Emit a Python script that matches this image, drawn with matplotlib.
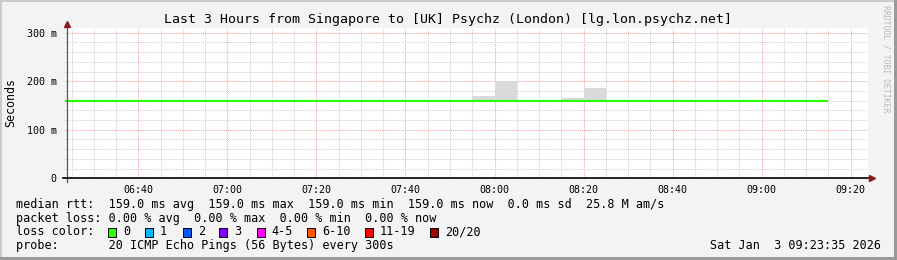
import matplotlib
matplotlib.use("Agg")
import matplotlib.pyplot as plt
import matplotlib.dates as mdates
from matplotlib.ticker import MultipleLocator, FixedLocator
from matplotlib.patches import Rectangle
from matplotlib.lines import Line2D
from datetime import datetime, timedelta

# ---------------- data ----------------
DAY = "2026-01-03"
window_start = "06:23:35"
window_end = "09:23:35"

median_times = ["06:23:35", "09:15:00"]
median_ms = [159.0, 159.0]

smoke_start = ["07:55", "08:00", "08:15", "08:20"]
smoke_low_ms = [158.0, 158.0, 158.0, 158.0]
smoke_high_ms = [170.0, 200.0, 165.0, 186.0]
smoke_step_min = 5

y_ticks_ms = [0, 100, 200, 300]
y_tick_labels = ["0", "100 m", "200 m", "300 m"]
y_top_ms = 310.3

title = "Last 3 Hours from Singapore to [UK] Psychz (London) [lg.lon.psychz.net]"
y_label = "Seconds"
line_rtt = "median rtt:  159.0 ms avg  159.0 ms max  159.0 ms min  159.0 ms now  0.0 ms sd  25.8 M am/s"
line_loss = "packet loss: 0.00 % avg  0.00 % max  0.00 % min  0.00 % now"
line_color_head = "loss color:"
line_probe = "probe:       20 ICMP Echo Pings (56 Bytes) every 300s"
date_stamp = "Sat Jan  3 09:23:35 2026"
watermark = "RRDTOOL / TOBI OETIKER"

loss_labels = ["0", "1", "2", "3", "4-5", "6-10", "11-19", "20/20"]
loss_colors = ["#26ff00", "#00b8ff", "#0059ff", "#7e00ff", "#ff00ff", "#ff5500", "#ff0000", "#a10000"]

# ---------------- layout ----------------
W, H = 897, 260
MONO = "DejaVu Sans Mono"


def t(s):
    fmt = "%Y-%m-%d %H:%M:%S" if s.count(":") == 2 else "%Y-%m-%d %H:%M"
    return datetime.strptime(f"{DAY} {s}", fmt)


def fx(px):
    return px / W


def fy(py):
    return 1 - py / H


fig = plt.figure(figsize=(W / 100, H / 100), dpi=100, facecolor="#f3f3f3")

# 3D frame like rrdtool
fig.add_artist(Rectangle((0, 0), 2 / W, 1, transform=fig.transFigure, color="#cbcbcb", lw=0))
fig.add_artist(Rectangle((0, fy(2)), 1, 2 / H, transform=fig.transFigure, color="#cbcbcb", lw=0))
fig.add_artist(Rectangle((fx(W - 3), 0), 3 / W, 1, transform=fig.transFigure, color="#9a9a9a", lw=0))
fig.add_artist(Rectangle((0, 0), 1, 3 / H, transform=fig.transFigure, color="#9a9a9a", lw=0))

# white canvas
CL, CR = 66.7, 868.3
L, R, T, B = 65.2, 866.7, 27.7, 178.3
fig.add_artist(Rectangle((fx(CL), fy(B)), (CR - CL) / W, (B - T) / H, transform=fig.transFigure,
                         color="white", lw=0, zorder=0))
ax = fig.add_axes([fx(L), fy(B), (R - L) / W, (B - T) / H])
ax.set_facecolor("none")

x0, x1 = t(window_start), t(window_end)
ax.set_xlim(x0, x1)
ax.set_ylim(0, y_top_ms)

# smoke
starts = [t(s) for s in smoke_start]
heights = [h - l for h, l in zip(smoke_high_ms, smoke_low_ms)]
ax.bar(starts, heights, bottom=smoke_low_ms, width=timedelta(minutes=smoke_step_min),
       align="edge", color="#dadada", lw=0, zorder=2)

# median line
ax.plot([t(s) for s in median_times], median_ms, color="#26ff00", lw=1.5,
        solid_capstyle="butt", zorder=4)

# grid
ax.xaxis.set_major_locator(mdates.MinuteLocator(byminute=[0, 20, 40]))
ax.xaxis.set_minor_locator(mdates.MinuteLocator(byminute=range(0, 60, 5)))
ax.xaxis.set_major_formatter(mdates.DateFormatter("%H:%M"))
ax.yaxis.set_major_locator(FixedLocator(y_ticks_ms))
ax.set_yticklabels(y_tick_labels)
ax.yaxis.set_minor_locator(MultipleLocator(20))

ax.grid(which="major", color="#f5a3a3", lw=0.75, linestyle=(0, (1, 1)), zorder=1)
ax.grid(which="minor", color="#cfcfcf", lw=0.75, linestyle=(0, (1, 1)), zorder=1)
ax.set_axisbelow(True)

for s in ax.spines.values():
    s.set_visible(False)

ax.tick_params(which="both", length=0, labelsize=7.2, pad=4)
ax.tick_params(axis="y", which="major", pad=6.0)
ax.tick_params(axis="x", which="major", pad=4.5)
for lab in ax.get_xticklabels() + ax.get_yticklabels():
    lab.set_family(MONO)

# axes lines + arrows (pixel space)
fig.add_artist(Line2D([fx(66.5), fx(66.5)], [fy(181.7), fy(24)], transform=fig.transFigure,
                      color="#555555", lw=0.9, zorder=5))
fig.add_artist(Line2D([fx(62.7), fx(870)], [fy(178.3), fy(178.3)], transform=fig.transFigure,
                      color="black", lw=1.2, zorder=5))
fig.add_artist(Line2D([fx(66.5)], [fy(23.5)], transform=fig.transFigure, marker="^",
                      markersize=4.5, color="#8b1a1a", lw=0, zorder=6))
fig.add_artist(Line2D([fx(872)], [fy(178.3)], transform=fig.transFigure, marker=">",
                      markersize=4.5, color="#8b1a1a", lw=0, zorder=6))

# texts
fig.text(fx(447.5), fy(19), title, family=MONO, fontsize=9.55, ha="center", va="center")
fig.text(fx(11), fy(102.5), y_label, family=MONO, fontsize=8.4, rotation=90,
         ha="center", va="center")
fig.text(fx(886), fy(59), watermark, family=MONO, fontsize=5.9, rotation=270,
         ha="center", va="center", color="#b8b8b8")

LEG_FS = 8.45
fig.text(fx(16), fy(204.3), line_rtt, family=MONO, fontsize=LEG_FS, va="center")
fig.text(fx(16), fy(218.3), line_loss, family=MONO, fontsize=LEG_FS, va="center")
fig.text(fx(16), fy(231.7), line_color_head, family=MONO, fontsize=LEG_FS, va="center")
fig.text(fx(16), fy(245.7), line_probe, family=MONO, fontsize=LEG_FS, va="center")
fig.text(fx(881), fy(245.7), date_stamp, family=MONO, fontsize=LEG_FS, va="center", ha="right")

box_x = [108.3, 145.0, 182.7, 219.3, 256.7, 307.3, 365.0, 430.0]
for bx, lab, col in zip(box_x, loss_labels, loss_colors):
    fig.add_artist(Rectangle((fx(bx), fy(237)), 8 / W, 9 / H, transform=fig.transFigure,
                             facecolor=col, edgecolor="black", lw=0.7))
    fig.text(fx(bx + 15), fy(231.7), lab, family=MONO, fontsize=LEG_FS, va="center")

fig.savefig("out.png", dpi=100, facecolor=fig.get_facecolor())
